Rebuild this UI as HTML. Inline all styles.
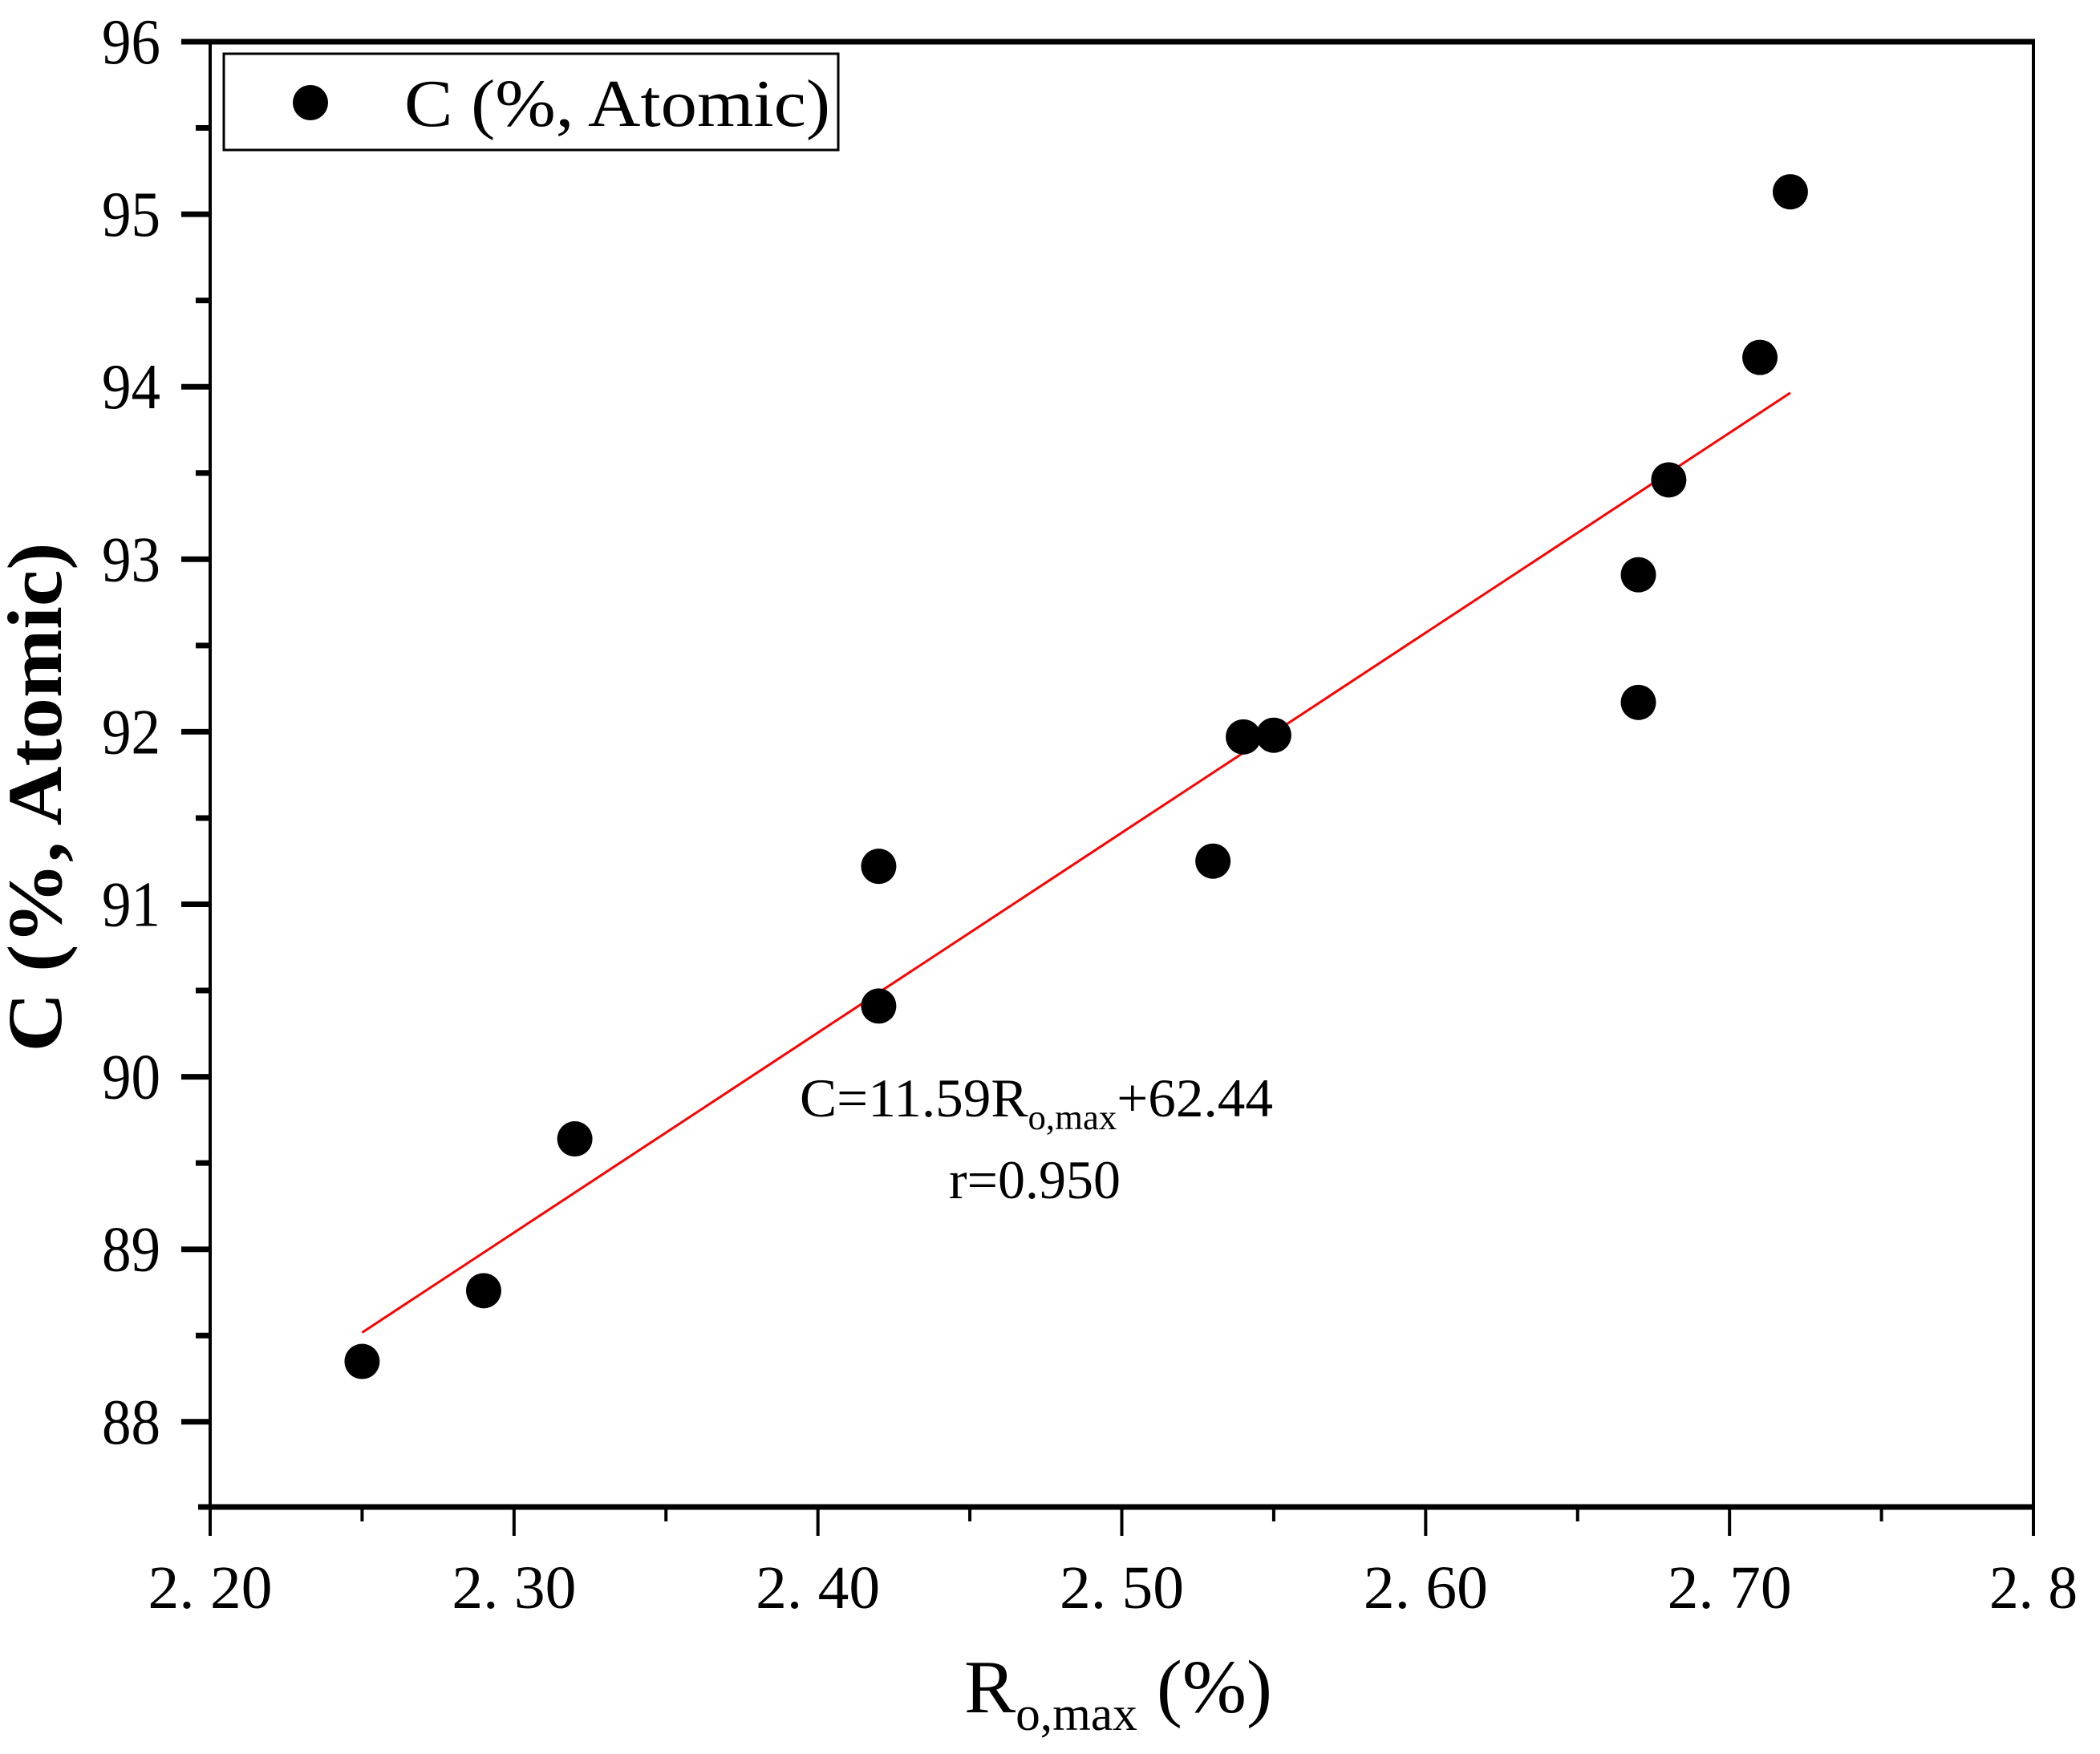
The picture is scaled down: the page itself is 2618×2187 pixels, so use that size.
<!DOCTYPE html>
<html><head><meta charset="utf-8"><style>
html,body{margin:0;padding:0;background:#fff;}
svg{display:block;font-family:"Liberation Serif",serif;}
</style></head><body>
<svg id="chart" width="2618" height="2187" viewBox="0 0 2618 2187" xmlns="http://www.w3.org/2000/svg">
<rect width="2618" height="2187" fill="#fff"/>
<g id="axes"></g>
<g id="marks"></g>
<g>
  <rect x="279" y="67" width="766" height="120" fill="#fff" stroke="#000" stroke-width="3"/>
  <circle cx="387" cy="128" r="22" fill="#000"/>
  <text x="504" y="157" font-size="84" textLength="531" lengthAdjust="spacingAndGlyphs">C  (%, Atomic)</text>
</g>
<text x="997" y="1392" font-size="68" textLength="590" lengthAdjust="spacingAndGlyphs">C=11.59R<tspan font-size="44" dy="16">o,max</tspan><tspan dy="-16">+62.44</tspan></text>
<text x="1290" y="1494" font-size="68" text-anchor="middle">r=0.950</text>
<text x="1202" y="2135" font-size="94" textLength="384" lengthAdjust="spacingAndGlyphs">R<tspan font-size="60" dy="22">o,max</tspan><tspan dy="-22"> (%)</tspan></text>
<text transform="translate(76,994) rotate(-90)" font-size="96" font-weight="bold" text-anchor="middle" textLength="635" lengthAdjust="spacingAndGlyphs">C  (%, Atomic)</text>
</svg>
<script>
const xs = [2.25, 2.29, 2.32, 2.42, 2.42, 2.53, 2.54, 2.55, 2.67, 2.67, 2.68, 2.71, 2.72];
const ys = [88.35, 88.76, 89.64, 91.22, 90.41, 91.25, 91.97, 91.98, 92.91, 92.17, 93.46, 94.17, 95.13];
const xTicks = [2.2, 2.3, 2.4, 2.5, 2.6, 2.7, 2.8];
const xTickLabels = ["2. 20", "2. 30", "2. 40", "2. 50", "2. 60", "2. 70", "2. 8"];
const yTicks = [88, 89, 90, 91, 92, 93, 94, 95, 96];
const fitSlope = [11.59];
const fitIntercept = [62.44];
const fitRange = [2.25, 2.72];

const L = 262, R = 2535, T = 52, B = 1879;
const X = v => L + (v - 2.2) / 0.6 * (R - L);
const Y = v => 52 + (96 - v) * 215.1;
const NS = "http://www.w3.org/2000/svg";
function mk(tag, attrs, parent) {
  const e = document.createElementNS(NS, tag);
  for (const k in attrs) e.setAttribute(k, attrs[k]);
  parent.appendChild(e);
  return e;
}
const axes = document.getElementById('axes');
const marks = document.getElementById('marks');

let e;
e = mk('line', {x1: L, y1: T, x2: L, y2: B, stroke: '#000', 'stroke-width': 4}, axes);


e = mk('line', {x1: R, y1: T, x2: R, y2: B, stroke: '#000', 'stroke-width': 4}, axes);


e = mk('line', {x1: L - 36, y1: T, x2: R + 2, y2: T, stroke: '#000', 'stroke-width': 7}, axes);


e = mk('line', {x1: L - 15, y1: B, x2: R + 2, y2: B, stroke: '#000', 'stroke-width': 7}, axes);



xTicks.forEach((v, i) => {
  const t = mk('line', {x1: X(v), y1: B, x2: X(v), y2: B + 36, stroke: '#000', 'stroke-width': 4}, axes);
  
  
  if (i < xTicks.length - 1) {
    const m = mk('line', {x1: X(v + 0.05), y1: B, x2: X(v + 0.05), y2: B + 18, stroke: '#000', 'stroke-width': 4}, axes);
    
    
  }
  const lab = mk('text', {x: X(v), y: 2005, 'font-size': 76, 'text-anchor': 'middle', textLength: i === xTicks.length - 1 ? 110 : 155, lengthAdjust: 'spacingAndGlyphs'}, axes);
  lab.textContent = xTickLabels[i];
  
  
});

yTicks.forEach((v, i) => {
  const t = mk('line', {x1: L - 36, y1: Y(v), x2: L, y2: Y(v), stroke: '#000', 'stroke-width': 7}, axes);
  
  
  const mv = v - 0.5;
  if (Y(mv) < B) {
    const m = mk('line', {x1: L - 18, y1: Y(mv), x2: L, y2: Y(mv), stroke: '#000', 'stroke-width': 7}, axes);
    
    
  }
  const lab = mk('text', {x: 200, y: Y(v) + 27, 'font-size': 80, 'text-anchor': 'end', textLength: 73, lengthAdjust: 'spacingAndGlyphs'}, axes);
  lab.textContent = String(v);
  
  
});

const fit = mk('line', {x1: X(fitRange[0]), y1: Y(fitSlope[0] * fitRange[0] + fitIntercept[0]), x2: X(fitRange[1]), y2: Y(fitSlope[0] * fitRange[1] + fitIntercept[0]), stroke: '#ff0000', 'stroke-width': 3}, marks);



xs.forEach((x, i) => {
  const c = mk('circle', {cx: X(x), cy: Y(ys[i]), r: 22, fill: '#000'}, marks);
  
  
});
</script>
</body></html>
